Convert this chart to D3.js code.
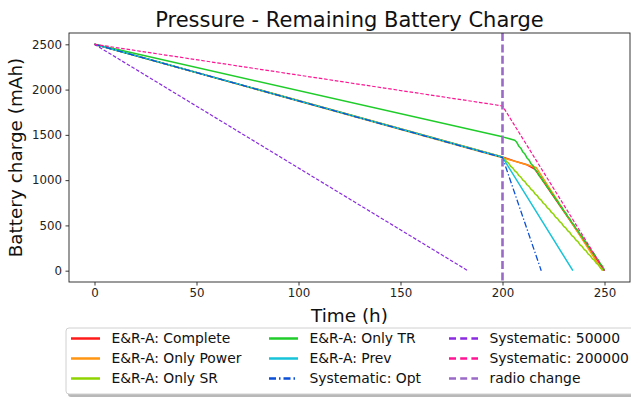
<!DOCTYPE html>
<html>
<head>
<meta charset="utf-8">
<script src="https://cdn.jsdelivr.net/npm/d3@7/dist/d3.min.js"></script>
<style>
  html, body { margin: 0; padding: 0; background: #fff; }
  svg { display: block; font-family: "DejaVu Sans", sans-serif; }
</style>
</head>
<body>
<svg id="chart" width="631" height="399"></svg>
<script>
// ---- data: time (h) and remaining charge (mAh) per strategy ----
const completeT = [0, 200, 206, 212, 216, 250];
const completeV = [2500, 1255, 1210, 1170, 1118, 0];

const onlyPowerT = [0, 200, 216.5, 249];
const onlyPowerV = [2500, 1248, 1140, 0];

const onlySrT = [0, 200, 201, 202, 203, 204, 205, 206, 207, 208, 209, 210, 211, 212, 213, 214, 215,
  216, 217, 218, 219, 220, 221, 222, 223, 224, 225, 226, 227, 228, 229, 230, 231, 232, 233, 234,
  235, 236, 237, 238, 239, 240, 241, 242, 243, 244, 245, 246, 247, 248, 249, 249.4];
const onlySrV = [2500, 1255, 1238, 1204, 1187, 1153, 1136, 1102, 1085, 1051, 1034, 1000, 983, 949,
  932, 898, 881, 847, 830, 796, 779, 745, 728, 694, 677, 643, 626, 592, 575, 541, 524, 490, 473,
  439, 422, 388, 371, 337, 320, 286, 269, 235, 218, 184, 167, 133, 116, 82, 65, 31, 14, 0];

const onlyTrT = [0, 200, 203, 206, 207, 208, 209, 210, 211, 212, 213, 214, 215, 216, 217, 218, 219,
  220, 221, 222, 223, 224, 225, 226, 227, 228, 229, 230, 231, 232, 233, 234, 235, 236, 237, 238,
  239, 240, 241, 242, 243, 244, 245, 246, 247, 248, 249, 250];
const onlyTrV = [2500, 1478, 1460, 1440, 1418, 1375, 1353, 1310, 1288, 1245, 1223, 1180, 1158, 1115,
  1093, 1050, 1028, 985, 963, 920, 898, 855, 833, 790, 768, 725, 703, 660, 638, 595, 573, 530, 508,
  465, 443, 400, 378, 335, 313, 270, 248, 205, 183, 140, 118, 75, 50, 0];

const prevT = [0, 200, 234.5];
const prevV = [2500, 1252, 0];

const optT = [0, 200, 219];
const optV = [2500, 1250, 0];

const sys50000T = [0, 183];
const sys50000V = [2500, 0];

const sys200000T = [0, 200, 250];
const sys200000V = [2500, 1820, 0];

const radioChangeT = 200;

const seriesNames = [
  "E&R-A: Complete", "E&R-A: Only Power", "E&R-A: Only SR",
  "E&R-A: Only TR", "E&R-A: Prev", "Systematic: Opt",
  "Systematic: 50000", "Systematic: 200000", "radio change"
];

const xTicks = [0, 50, 100, 150, 200, 250];
const yTicks = [0, 500, 1000, 1500, 2000, 2500];

// ---- styles ----
const styles = {
  "E&R-A: Complete":    { color: "#ff1a1a", width: 1.5, dash: null },
  "E&R-A: Only Power":  { color: "#ff9510", width: 1.5, dash: null },
  "E&R-A: Only SR":     { color: "#8fd400", width: 1.5, dash: null },
  "E&R-A: Only TR":     { color: "#1fcc2a", width: 1.5, dash: null },
  "E&R-A: Prev":        { color: "#17c3d8", width: 1.5, dash: null },
  "Systematic: Opt":    { color: "#0a4fd8", width: 1.3, dash: "6,2.2,1.3,2.2" },
  "Systematic: 50000":  { color: "#8a2be2", width: 1.2, dash: "3.6,1.8" },
  "Systematic: 200000": { color: "#ff1493", width: 1.2, dash: "3.6,1.8" },
  "radio change":       { color: "#9a6ac8", width: 2.6, dash: "8,3.4" }
};

const series = [
  { name: seriesNames[0], t: completeT, v: completeV },
  { name: seriesNames[1], t: onlyPowerT, v: onlyPowerV },
  { name: seriesNames[2], t: onlySrT, v: onlySrV },
  { name: seriesNames[3], t: onlyTrT, v: onlyTrV },
  { name: seriesNames[4], t: prevT, v: prevV },
  { name: seriesNames[5], t: optT, v: optV },
  { name: seriesNames[6], t: sys50000T, v: sys50000V },
  { name: seriesNames[7], t: sys200000T, v: sys200000V }
];

// ---- layout ----
const svg = d3.select("#chart");
const plot = { left: 69, right: 630, top: 33, bottom: 282 };

const x = d3.scaleLinear().domain([-12.5, 262.5]).range([plot.left, plot.right]);
const y = d3.scaleLinear().domain([-125, 2625]).range([plot.bottom, plot.top]);

// title
svg.append("text")
  .attr("x", (plot.left + plot.right) / 2)
  .attr("y", 26.5)
  .attr("text-anchor", "middle")
  .attr("font-size", 21)
  .attr("fill", "#111")
  .text("Pressure - Remaining Battery Charge");

// axes
const xAxis = svg.append("g")
  .attr("transform", `translate(0,${plot.bottom})`)
  .call(d3.axisBottom(x).tickValues(xTicks).tickSize(3.5).tickPadding(3.5).tickFormat(d3.format("d")));
const yAxis = svg.append("g")
  .attr("transform", `translate(${plot.left},0)`)
  .call(d3.axisLeft(y).tickValues(yTicks).tickSize(3.5).tickPadding(3.5).tickFormat(d3.format("d")));

[xAxis, yAxis].forEach(g => {
  g.select(".domain").remove();
  g.selectAll(".tick line").attr("stroke", "#222").attr("stroke-width", 0.9);
  g.selectAll(".tick text")
    .attr("font-size", 11.8)
    .attr("fill", "#222")
    .attr("font-family", "DejaVu Sans, sans-serif");
});

// axis labels
svg.append("text")
  .attr("x", (plot.left + plot.right) / 2)
  .attr("y", 322)
  .attr("text-anchor", "middle")
  .attr("font-size", 18.4)
  .attr("fill", "#111")
  .text("Time (h)");

svg.append("text")
  .attr("transform", `translate(21.5,${(plot.top + plot.bottom) / 2}) rotate(-90)`)
  .attr("text-anchor", "middle")
  .attr("font-size", 18.4)
  .attr("fill", "#111")
  .text("Battery charge (mAh)");

// clip to the plotting area
svg.append("clipPath").attr("id", "plotclip")
  .append("rect")
  .attr("x", plot.left).attr("y", plot.top)
  .attr("width", plot.right - plot.left).attr("height", plot.bottom - plot.top);

const lines = svg.append("g").attr("clip-path", "url(#plotclip)");
const lineGen = d3.line().x(d => x(d[0])).y(d => y(d[1]));

series.forEach(s => {
  const st = styles[s.name];
  lines.append("path")
    .datum(s.t.map((t, i) => [t, s.v[i]]))
    .attr("d", lineGen)
    .attr("fill", "none")
    .attr("stroke", st.color)
    .attr("stroke-width", st.width)
    .attr("stroke-dasharray", st.dash)
    .attr("stroke-linejoin", "round");
});

// radio change marker
const rc = styles["radio change"];
lines.append("line")
  .attr("x1", x(radioChangeT)).attr("x2", x(radioChangeT))
  .attr("y1", plot.top).attr("y2", plot.bottom)
  .attr("stroke", rc.color)
  .attr("stroke-width", rc.width)
  .attr("stroke-dasharray", rc.dash);

// frame
svg.append("rect")
  .attr("x", plot.left).attr("y", plot.top)
  .attr("width", plot.right - plot.left).attr("height", plot.bottom - plot.top)
  .attr("fill", "none").attr("stroke", "#222").attr("stroke-width", 0.9);

// legend
const leg = { x: 66, y: 328, w: 568, h: 66 };
const lg = svg.append("g");
lg.append("rect")
  .attr("x", leg.x + 2).attr("y", leg.y + 3)
  .attr("width", leg.w).attr("height", leg.h)
  .attr("rx", 3).attr("fill", "#888").attr("opacity", 0.6);
lg.append("rect")
  .attr("x", leg.x).attr("y", leg.y)
  .attr("width", leg.w).attr("height", leg.h)
  .attr("rx", 3).attr("fill", "#fff").attr("stroke", "#d0d0d0").attr("stroke-width", 1);

const colX = [71, 269, 449];
const rowY = [338.5, 358.5, 378.5];
seriesNames.forEach((name, i) => {
  const col = Math.floor(i / 3), row = i % 3;
  const st = styles[name];
  const hx = colX[col], hy = rowY[row];
  lg.append("line")
    .attr("x1", hx).attr("x2", hx + 29)
    .attr("y1", hy).attr("y2", hy)
    .attr("stroke", st.color)
    .attr("stroke-width", 2.5)
    .attr("stroke-dasharray", st.dash ? (name === "Systematic: Opt" ? "7,3,1.5,3" : "7,4.2") : null);
  lg.append("text")
    .attr("x", hx + 40.5)
    .attr("y", hy + 4.9)
    .attr("font-size", 13.9)
    .attr("fill", "#111")
    .text(name);
});
</script>
</body>
</html>
